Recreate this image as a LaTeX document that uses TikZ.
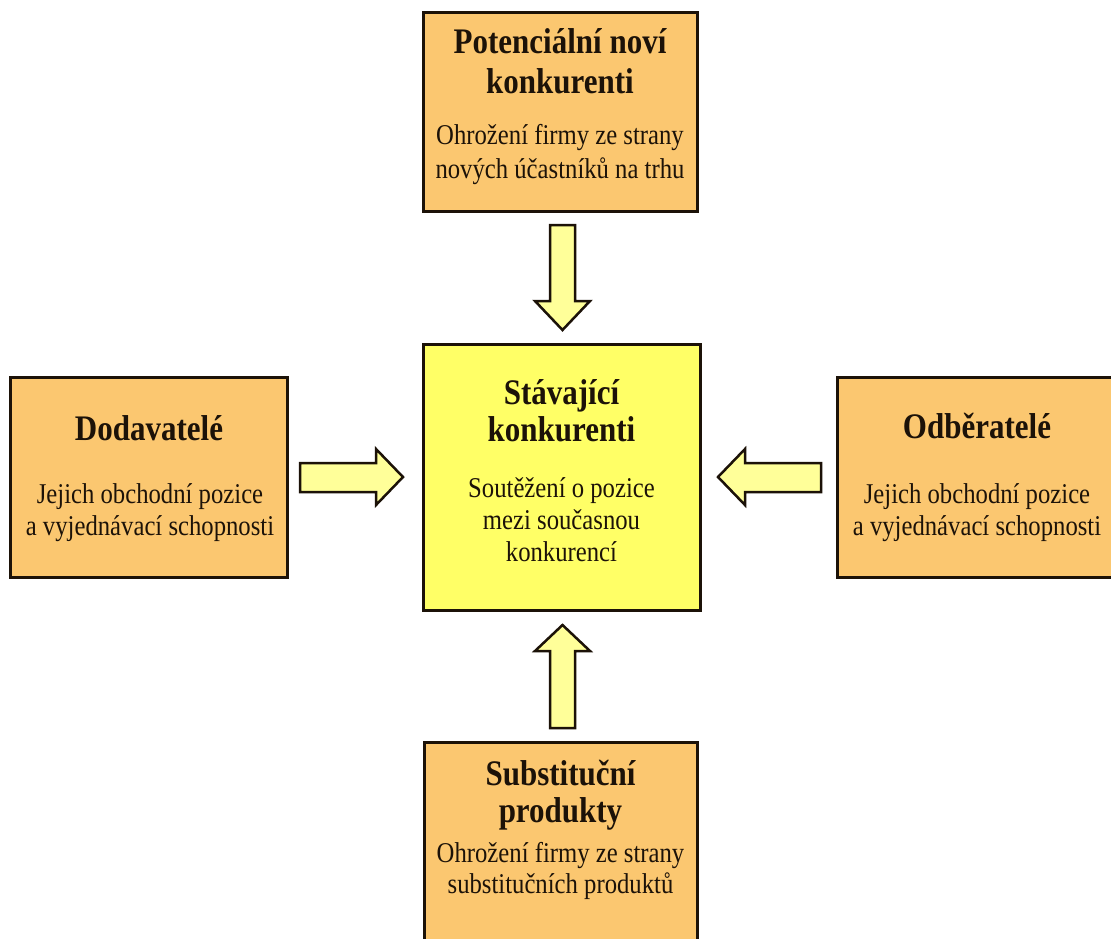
\documentclass[tikz,border=0pt]{standalone}
\usepackage{fontspec}
\usepackage{graphicx}
\setmainfont{Liberation Serif}
\definecolor{boxorange}{RGB}{251,199,112}
\definecolor{boxyellow}{RGB}{255,255,102}
\definecolor{arrowyellow}{RGB}{255,255,153}
\definecolor{inkdark}{RGB}{28,18,8}
\newcommand{\vstr}[1]{\scalebox{1}[1.16]{#1}}
\tikzset{
  box/.style={draw=inkdark, line width=3pt, rectangle, inner sep=0pt},
  obox/.style={box, fill=boxorange},
  ybox/.style={box, fill=boxyellow},
  ttl/.style={inner sep=0pt, anchor=base, text=inkdark, font=\fontsize{31}{37}\selectfont\bfseries},
  sub/.style={inner sep=0pt, anchor=base, text=inkdark, font=\fontsize{24.7}{30}\selectfont},
  blockarrow/.style={draw=inkdark, line width=2.5pt, fill=arrowyellow, line join=miter}
}
\begin{document}
\begin{tikzpicture}[x=1pt,y=-1pt]
\clip (0,0) rectangle (1111,938);
\fill[white] (0,0) rectangle (1111,938);

% boxes
\node[obox, minimum width=274pt, minimum height=199pt] (top) at (560,111.5) {};
\node[ybox, minimum width=277pt, minimum height=266pt] (center) at (561.5,477) {};
\node[obox, minimum width=277pt, minimum height=200pt] (left) at (148.5,477) {};
\node[obox, minimum width=280pt, minimum height=200pt] (right) at (977,477) {};
\node[obox, minimum width=273pt, minimum height=230pt] (bottom) at (560.5,857) {};

% top texts
\node[ttl] (topT1) at (560,53) {\vstr{Potenciální noví}};
\node[ttl] (topT2) at (560,93) {\vstr{konkurenti}};
\node[sub] (topS1) at (560,144) {\vstr{Ohrožení firmy ze strany}};
\node[sub] (topS2) at (560,178) {\vstr{nových účastníků na trhu}};

% center texts
\node[ttl] (cenT1) at (561.5,404) {\vstr{Stávající}};
\node[ttl] (cenT2) at (561.5,441) {\vstr{konkurenti}};
\node[sub] (cenS1) at (561.5,497) {\vstr{Soutěžení o pozice}};
\node[sub] (cenS2) at (561.5,529) {\vstr{mezi současnou}};
\node[sub] (cenS3) at (561.5,561) {\vstr{konkurencí}};

% left texts
\node[ttl] (lefT1) at (149,440) {\vstr{Dodavatelé}};
\node[sub] (lefS1) at (150,503) {\vstr{Jejich obchodní pozice}};
\node[sub] (lefS2) at (150,535) {\vstr{a vyjednávací schopnosti}};

% right texts
\node[ttl] (rigT1) at (977,438) {\vstr{Odběratelé}};
\node[sub] (rigS1) at (977,503) {\vstr{Jejich obchodní pozice}};
\node[sub] (rigS2) at (977,535) {\vstr{a vyjednávací schopnosti}};

% bottom texts
\node[ttl] (botT1) at (560.5,785) {\vstr{Substituční}};
\node[ttl] (botT2) at (560.5,822) {\vstr{produkty}};
\node[sub] (botS1) at (560.5,862) {\vstr{Ohrožení firmy ze strany}};
\node[sub] (botS2) at (560.5,893) {\vstr{substitučních produktů}};

% block arrows
\draw[blockarrow] (550,225) -- (575,225) -- (575,301) -- (590,301) -- (562.5,330)
  -- (535,301) -- (550,301) -- cycle;
\draw[blockarrow] (550,728) -- (575,728) -- (575,651) -- (590,651) -- (562.5,625)
  -- (535,651) -- (550,651) -- cycle;
\draw[blockarrow] (300,463) -- (376,463) -- (376,449) -- (403,477) -- (376,505)
  -- (376,492) -- (300,492) -- cycle;
\draw[blockarrow] (821,463) -- (745,463) -- (745,449) -- (718,477) -- (745,505)
  -- (745,492) -- (821,492) -- cycle;
\end{tikzpicture}
\end{document}
